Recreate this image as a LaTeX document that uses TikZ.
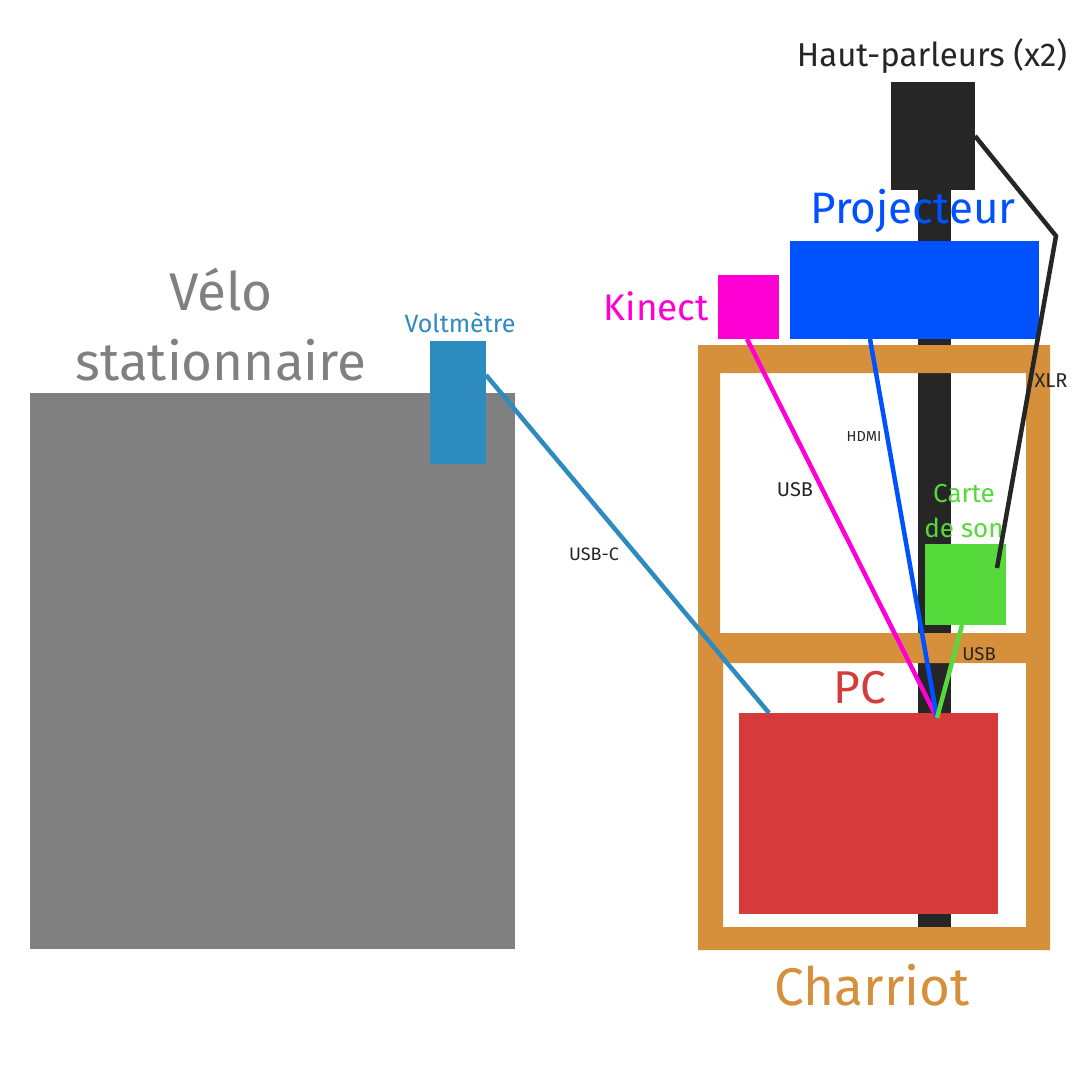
\documentclass[tikz,border=0pt]{standalone}
\usepackage{fontspec}
\setmainfont{Fira Sans}
\usetikzlibrary{calc}
\definecolor{cgray}{HTML}{808080}
\definecolor{cvolt}{HTML}{2E8BC0}
\definecolor{cdark}{HTML}{262626}
\definecolor{cproj}{HTML}{0051FF}
\definecolor{ckin}{HTML}{FF00D4}
\definecolor{corange}{HTML}{D68F3B}
\definecolor{cgreen}{HTML}{55D93B}
\definecolor{cred}{HTML}{D63B3B}
\newcommand{\fs}[2]{\fontsize{#1}{#2}\selectfont}
\begin{document}
\begin{tikzpicture}[x=1pt,y=-1pt,
  box/.style={draw=none,inner sep=0pt,outer sep=0pt,anchor=north west},
  lbl/.style={inner sep=0pt,outer sep=0pt,anchor=center},
  wire/.style={line width=4.5pt,line cap=butt}]
\path[use as bounding box,fill=white] (0,0) rectangle (1080,1080);
% bike
\node[box,fill=cgray,minimum width=485pt,minimum height=556pt] (velo) at (30,393) {};
\node[lbl,text=cgray,align=center,font=\fs{53}{70}] (velol) at (221,325) {Vélo\\stationnaire};
% voltmeter
\node[box,fill=cvolt,minimum width=56pt,minimum height=123pt] (volt) at (430,341) {};
\node[lbl,text=cvolt,font=\fs{25}{30}] (voltl) at (460,323) {Voltmètre};
% pole and speakers
\node[box,fill=cdark,minimum width=33pt,minimum height=740pt] (pole) at (918,188) {};
\node[box,fill=cdark,minimum width=84pt,minimum height=108pt] (spk) at (891,82) {};
\node[lbl,text=cdark,font=\fs{33}{40}] (spkl) at (932,56) {Haut-parleurs (x2)};
% cart frame
\fill[corange,even odd rule] (698,345) rectangle (1050,950)
  (720,373) rectangle (1026,633)
  (723,663) rectangle (1026,927);
\node[lbl,text=corange,font=\fs{53}{60}] (cartl) at (872,985) {Charriot};
% projector
\node[box,fill=cproj,minimum width=249pt,minimum height=98pt] (proj) at (790,241) {};
\node[lbl,text=cproj,font=\fs{44}{50}] (projl) at (913,211) {Projecteur};
% kinect
\node[box,fill=ckin,minimum width=61pt,minimum height=64pt] (kin) at (718,275) {};
\node[lbl,text=ckin,anchor=east,font=\fs{37}{44}] (kinl) at (709,306) {Kinect};
% sound card
\node[box,fill=cgreen,minimum width=81pt,minimum height=81pt] (card) at (925,544) {};
\node[lbl,text=cgreen,align=center,font=\fs{26}{35}] (cardl) at (964,511) {Carte\\de son};
% PC
\node[box,fill=cred,minimum width=259pt,minimum height=201pt] (pc) at (739,713) {};
\node[lbl,text=cred,font=\fs{46}{52}] (pcl) at (860,688) {PC};
% wires
\coordinate (hub) at (937,718);
\coordinate (xlrbend) at (1056,236);
\coordinate (xlrend) at (997,568);
\draw[wire,cvolt] ($(volt.north east)+(0,34)$) -- ($(pc.north west)+(30,0)$);
\draw[wire,cdark] (spk.east) -- (xlrbend) -- (xlrend);
\draw[wire,ckin] ($(kin.south west)+(29,0)$) -- (hub);
\draw[wire,cproj] ($(proj.south west)+(80,0)$) -- (hub);
\draw[wire,cgreen] ($(card.south west)+(37,0)$) -- (hub);
% wire labels
\node[lbl,text=cdark,font=\fs{18}{20}] (l1) at (594,554) {USB-C};
\node[lbl,text=cdark,font=\fs{20}{22}] (l2) at (795,490) {USB};
\node[lbl,text=cdark,font=\fs{14.5}{16}] (l3) at (864,436) {HDMI};
\node[lbl,text=cdark,font=\fs{20}{22}] (l4) at (1051,381) {XLR};
\node[lbl,text=cdark,font=\fs{18.5}{20}] (l5) at (979,654) {USB};
\end{tikzpicture}
\end{document}
